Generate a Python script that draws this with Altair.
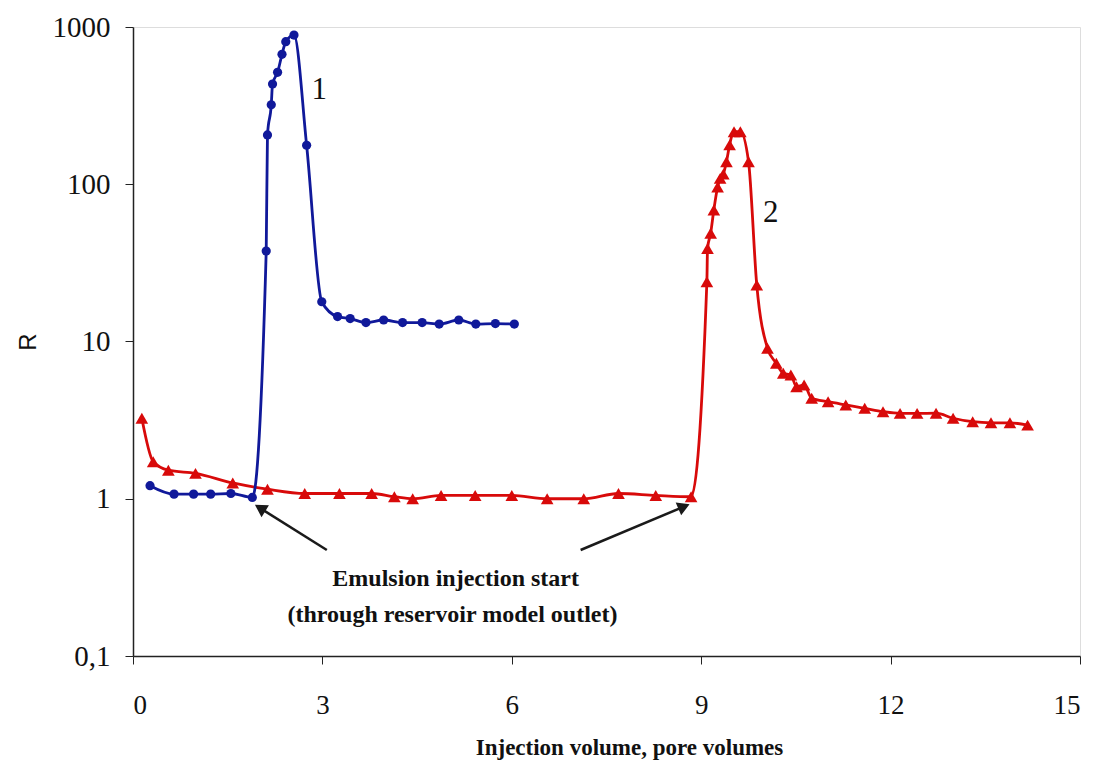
import altair as alt
import pandas as pd

# Series 1 (blue, circles)
blue_x = [0.27, 0.65, 0.96, 1.23, 1.55, 1.89, 2.11, 2.13, 2.19, 2.21, 2.29, 2.36, 2.42, 2.55,
          2.75, 2.99, 3.24, 3.44, 3.69, 3.97, 4.27, 4.58, 4.85, 5.16, 5.43, 5.74, 6.04]
blue_r = [1.21, 1.07, 1.07, 1.07, 1.08, 1.02, 37.6, 206, 320, 434, 515, 670, 806, 889,
          177, 17.9, 14.4, 14.0, 13.2, 13.7, 13.2, 13.2, 12.9, 13.7, 12.9, 13.0, 12.9]

# Series 2 (red, triangles)
red_x = [0.14, 0.32, 0.56, 0.99, 1.58, 2.13, 2.72, 3.27, 3.78, 4.14, 4.43, 4.88, 5.42, 6.0,
         6.56, 7.14, 7.69, 8.28, 8.84, 9.09, 9.10, 9.15, 9.20, 9.26, 9.30, 9.35, 9.40, 9.45,
         9.52, 9.62, 9.75, 9.88, 10.05, 10.19, 10.30, 10.42, 10.51, 10.63, 10.75, 11.01,
         11.29, 11.59, 11.88, 12.15, 12.42, 12.72, 12.99, 13.30, 13.59, 13.89, 14.17]
red_r = [3.25, 1.72, 1.52, 1.45, 1.26, 1.15, 1.08, 1.08, 1.08, 1.03, 1.0, 1.05, 1.05, 1.05,
         1.0, 1.0, 1.08, 1.05, 1.03, 24, 39, 48.8, 68.6, 96, 109, 116, 139, 178,
         216, 216, 139, 22.9, 9.05, 7.27, 6.28, 6.12, 5.16, 5.29, 4.35, 4.14,
         3.95, 3.76, 3.58, 3.49, 3.49, 3.5, 3.25, 3.09, 3.04, 3.04, 2.94]

# Curve labels
curve_label_text = ["1", "2"]
curve_label_x = [2.95, 10.1]
curve_label_r = [400, 66]

# Annotation
note_lines = ["Emulsion injection start", "(through reservoir model outlet)"]
note_x = [5.11, 5.06]
note_r = [0.309, 0.182]

# Arrows (start -> tip)
arrow_x0 = [3.07, 7.09]
arrow_r0 = [0.472, 0.472]
arrow_x1 = [2.02, 8.72]
arrow_r1 = [0.869, 0.889]
arrow_angle = [302, 67]

x_ticks = [0, 3, 6, 9, 12, 15]
y_ticks = [0.1, 1, 10, 100, 1000]

BLUE = "#10199a"
RED = "#d80a0a"
SERIF = "Liberation Serif"

blue_df = pd.DataFrame({"x": blue_x, "r": blue_r})
red_df = pd.DataFrame({"x": red_x, "r": red_r})
lab_df = pd.DataFrame({"t": curve_label_text, "x": curve_label_x, "r": curve_label_r})
note_df = pd.DataFrame({"t": note_lines, "x": note_x, "r": note_r})
arr_df = pd.DataFrame({"x0": arrow_x0, "r0": arrow_r0, "x1": arrow_x1, "r1": arrow_r1,
                       "a": arrow_angle})

xscale = alt.Scale(domain=[0, 15], nice=False, zero=False)
yscale = alt.Scale(type="log", domain=[0.1, 1000], nice=False)

xaxis = alt.Axis(values=x_ticks, format="d", title="Injection volume, pore volumes", grid=False,
                 labelFont=SERIF, labelFontSize=27, labelColor="#111",
                 labelPadding=28, tickSize=8, tickColor="#222", domainColor="#222",
                 domainWidth=1.5, titleFont=SERIF, titleFontSize=23, titleFontWeight="bold",
                 titleColor="#111", titlePadding=18, titleX=496)
yaxis = alt.Axis(values=y_ticks, title="R", grid=False,
                 labelExpr="replace(format(datum.value, ''), '.', ',')",
                 labelFont=SERIF, labelFontSize=29, labelColor="#111",
                 labelPadding=15, tickSize=8, tickColor="#222", domainColor="#222",
                 domainWidth=1.5, titleFont="Liberation Sans", titleFontSize=24,
                 titleFontWeight="normal", titleColor="#111", titlePadding=12)

X = alt.X("x:Q", scale=xscale, axis=xaxis)
Y = alt.Y("r:Q", scale=yscale, axis=yaxis)

blue_line = alt.Chart(blue_df).mark_line(color=BLUE, strokeWidth=2.8, interpolate="monotone").encode(x=X, y=Y)
blue_pts = alt.Chart(blue_df).mark_point(shape="circle", filled=True, opacity=1, color=BLUE, size=85).encode(x="x:Q", y="r:Q")
red_line = alt.Chart(red_df).mark_line(color=RED, strokeWidth=2.8, interpolate="monotone").encode(x="x:Q", y="r:Q")
red_pts = alt.Chart(red_df).mark_point(shape="triangle-up", filled=True, opacity=1, color=RED, size=160).encode(x="x:Q", y="r:Q")

labels = alt.Chart(lab_df).mark_text(font=SERIF, fontSize=31, color="#111").encode(
    x="x:Q", y="r:Q", text="t:N")
notes = alt.Chart(note_df).mark_text(font=SERIF, fontSize=24, fontWeight="bold", color="#111",
                                     baseline="middle").encode(x="x:Q", y="r:Q", text="t:N")
arrow_lines = alt.Chart(arr_df).mark_rule(color="#1a1a1a", strokeWidth=2.5).encode(
    x="x0:Q", y="r0:Q", x2="x1:Q", y2="r1:Q")
arrow_heads = alt.Chart(arr_df).mark_point(shape="triangle-up", filled=True, opacity=1,
                                           fill="#1a1a1a", stroke="#1a1a1a", size=110).encode(
    x="x1:Q", y="r1:Q", angle=alt.Angle("a:Q", scale=None))

chart = alt.layer(
    arrow_lines, arrow_heads, red_line, red_pts, blue_line, blue_pts, labels, notes
).properties(
    width=947, height=629,
    autosize=alt.AutoSizeParams(type="none"),
    padding={"left": 125, "top": 19, "right": 8, "bottom": 106},
).configure_view(stroke="#9a9a9a", strokeWidth=1.5).configure(background="white")

chart.save("out.html", embed_options={"renderer": "svg", "actions": False})
